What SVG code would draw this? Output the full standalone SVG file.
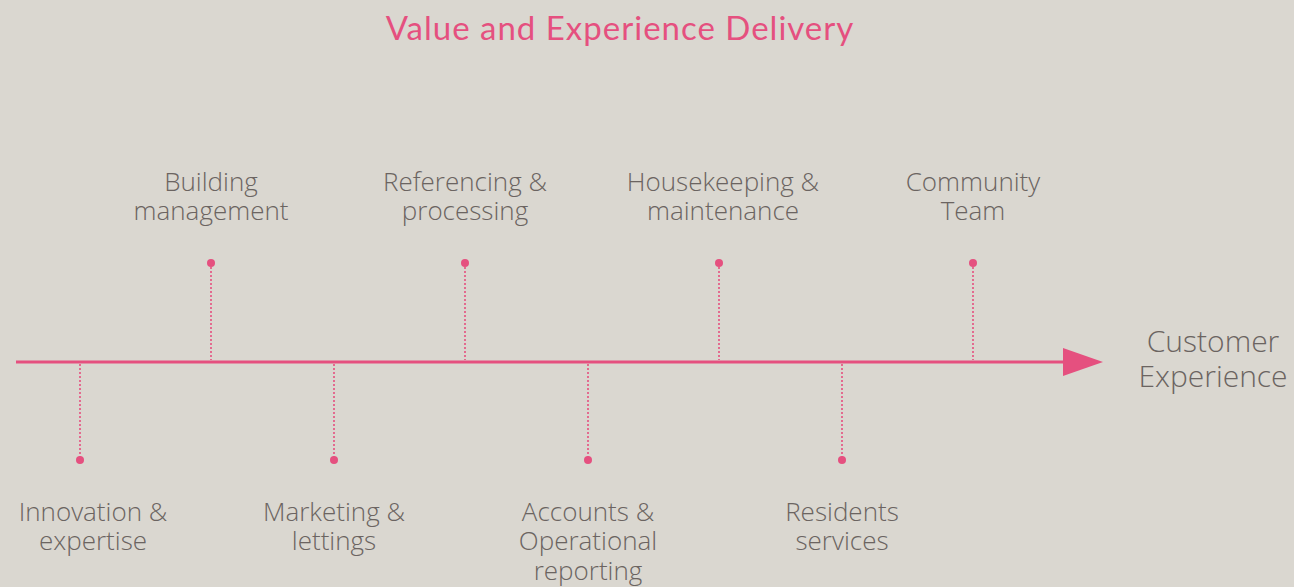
<svg xmlns="http://www.w3.org/2000/svg" width="1294" height="587" viewBox="0 0 1294 587">
<style>
.lbl{font-family:"Open Sans","Noto Sans","Liberation Sans",sans-serif;font-weight:300;font-size:26px;fill:#6b6461;text-anchor:middle}
.big{font-size:30px}
.stem{stroke:#e5507f;stroke-width:1.6;stroke-dasharray:2 2}
.dot{fill:#e5507f}
</style>
<rect width="1294" height="587" fill="#dad7d0"/>
<text x="620" y="40" font-family="Lato,'Open Sans','Liberation Sans',sans-serif" font-size="33" letter-spacing="1" fill="#e5507f" text-anchor="middle">Value and Experience Delivery</text>
<g id="connectors">
<line x1="16" y1="362" x2="1066" y2="362" stroke="#e5507f" stroke-width="3"/>
<path d="M1063,348 L1103,362 L1063,376 z" fill="#e5507f"/>
<line class="stem" x1="80" y1="364" x2="80" y2="460"/>
<line class="stem" x1="334" y1="364" x2="334" y2="460"/>
<line class="stem" x1="588" y1="364" x2="588" y2="460"/>
<line class="stem" x1="842" y1="364" x2="842" y2="460"/>
<line class="stem" x1="211" y1="263" x2="211" y2="360"/>
<line class="stem" x1="465" y1="263" x2="465" y2="360"/>
<line class="stem" x1="719" y1="263" x2="719" y2="360"/>
<line class="stem" x1="973" y1="263" x2="973" y2="360"/>
</g>
<g id="n-innovation"><circle class="dot" cx="80" cy="460" r="4"/><text class="lbl" x="93" y="521">Innovation &amp;</text><text class="lbl" x="93" y="550">expertise</text></g>
<g id="n-building"><circle class="dot" cx="211" cy="263" r="4"/><text class="lbl" x="211" y="191">Building</text><text class="lbl" x="211" y="220">management</text></g>
<g id="n-marketing"><circle class="dot" cx="334" cy="460" r="4"/><text class="lbl" x="334" y="521">Marketing &amp;</text><text class="lbl" x="334" y="550">lettings</text></g>
<g id="n-referencing"><circle class="dot" cx="465" cy="263" r="4"/><text class="lbl" x="465" y="191">Referencing &amp;</text><text class="lbl" x="465" y="220">processing</text></g>
<g id="n-accounts"><circle class="dot" cx="588" cy="460" r="4"/><text class="lbl" x="588" y="521">Accounts &amp;</text><text class="lbl" x="588" y="550">Operational</text><text class="lbl" x="588" y="580">reporting</text></g>
<g id="n-housekeeping"><circle class="dot" cx="719" cy="263" r="4"/><text class="lbl" x="723" y="191">Housekeeping &amp;</text><text class="lbl" x="723" y="220">maintenance</text></g>
<g id="n-residents"><circle class="dot" cx="842" cy="460" r="4"/><text class="lbl" x="842" y="521">Residents</text><text class="lbl" x="842" y="550">services</text></g>
<g id="n-community"><circle class="dot" cx="973" cy="263" r="4"/><text class="lbl" x="973" y="191">Community</text><text class="lbl" x="973" y="220">Team</text></g>
<g id="n-customer"><text class="lbl big" x="1213" y="352">Customer</text><text class="lbl big" x="1213" y="387">Experience</text></g>
</svg>
